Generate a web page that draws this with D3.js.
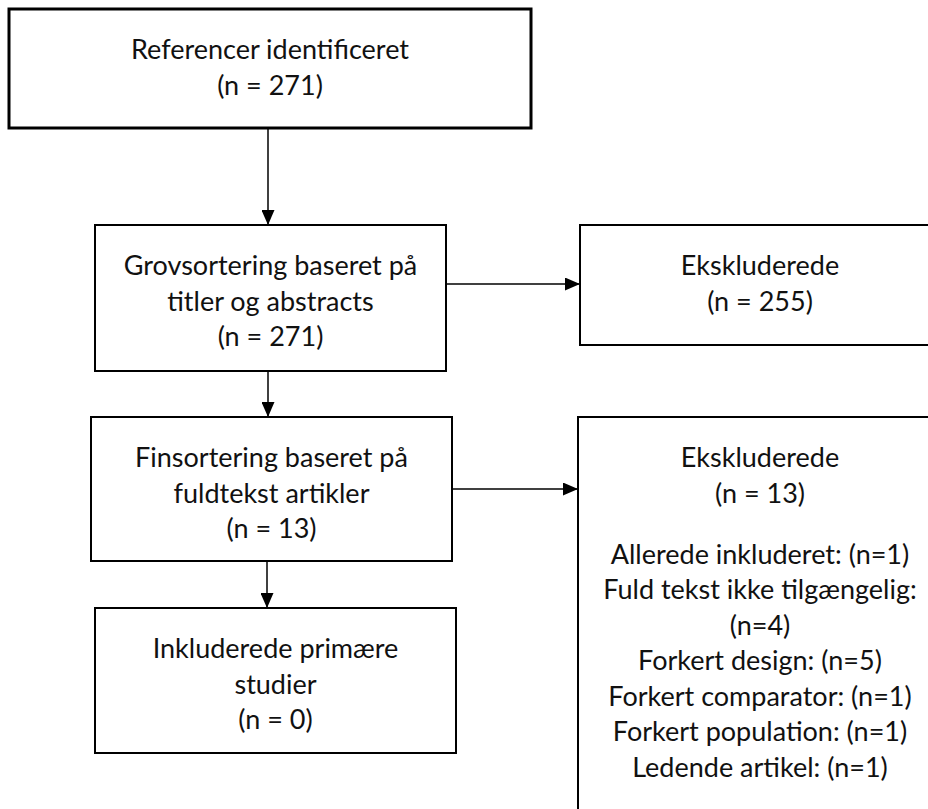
<!DOCTYPE html>
<html>
<head>
<meta charset="utf-8">
<script src="https://cdn.jsdelivr.net/npm/d3@7"></script>
<style>
  body { margin: 0; background: #fff; }
  svg { display: block; }
</style>
</head>
<body>
<script>
// flowchart of the literature search

// data
var stageLabels = [
  ["Referencer identificeret"],
  ["Grovsortering baseret på", "titler og abstracts"],
  ["Finsortering baseret på", "fuldtekst artikler"],
  ["Inkluderede primære", "studier"]
];
var stageCounts = [271, 271, 13, 0];

var excludedLabel = "Ekskluderede";
var excludedCounts = [255, 13];   // after stage 2 and stage 3

var reasonLabels = [
  "Allerede inkluderet:",
  "Fuld tekst ikke tilgængelig:",
  "Forkert design:",
  "Forkert comparator:",
  "Forkert population:",
  "Ledende artikel:"
];
var reasonCounts = [1, 4, 5, 1, 1, 1];

// layout
var width = 928, height = 809;
var font = "Lato, 'Open Sans', sans-serif";
var font_size = 27;
var line_h = 35.5;
var first_base = 50;

var left = [
  {x0: 9,  x1: 531, y0: 9,   y1: 128, sw: 3},
  {x0: 95, x1: 446, y0: 225, y1: 371, sw: 2},
  {x0: 91, x1: 452, y0: 417, y1: 561, sw: 2},
  {x0: 95, x1: 456, y0: 608, y1: 753, sw: 2}
];
var right = [
  {x0: 580, x1: 942, y0: 225, y1: 345, sw: 2},
  {x0: 578, x1: 942, y0: 417, y1: 840, sw: 2}
];
var trunk_x = [268, 268, 267];

var svg = d3.select("body").append("svg")
    .attr("width", width)
    .attr("height", height);

svg.append("defs").append("marker")
    .attr("id", "head")
    .attr("markerUnits", "userSpaceOnUse")
    .attr("viewBox", "0 0 15 13")
    .attr("markerWidth", 15)
    .attr("markerHeight", 13)
    .attr("refX", 15)
    .attr("refY", 6.5)
    .attr("orient", "auto")
  .append("path")
    .attr("d", "M0,0L15,6.5L0,13Z")
    .attr("fill", "#000");

function drawBox(b, lines, center_x) {
  svg.append("rect")
      .attr("x", b.x0)
      .attr("y", b.y0)
      .attr("width", b.x1 - b.x0)
      .attr("height", b.y1 - b.y0)
      .attr("fill", "#fff")
      .attr("stroke", "#000")
      .attr("stroke-width", b.sw);
  var cx = center_x == null ? (b.x0 + b.x1) / 2 : center_x;
  svg.append("g").selectAll("text")
    .data(lines)
    .enter().append("text")
      .attr("x", cx)
      .attr("y", function(d) { return b.y0 + first_base + d.dy; })
      .attr("text-anchor", "middle")
      .style("font-family", font)
      .style("font-size", font_size + "px")
      .attr("fill", "#111")
      .text(function(d) { return d.text; });
}

function stack(texts, start) {
  return texts.map(function(t, i) { return {text: t, dy: (start || 0) + i * line_h}; });
}

// left column
stageLabels.forEach(function(lab, i) {
  drawBox(left[i], stack(lab.concat(["(n = " + stageCounts[i] + ")"])));
});

// vertical connectors
for (var i = 0; i < left.length - 1; i++) {
  svg.append("line")
      .attr("x1", trunk_x[i]).attr("y1", left[i].y1)
      .attr("x2", trunk_x[i]).attr("y2", left[i + 1].y0)
      .attr("stroke", "#000")
      .attr("stroke-width", 1.5)
      .attr("marker-end", "url(#head)");
}

// measure helper for wrapping reasons
var probe = svg.append("text")
    .style("font-family", font)
    .style("font-size", font_size + "px")
    .attr("opacity", 0);
function textWidth(s) { probe.text(s); return probe.node().getComputedTextLength(); }

var reasonLines = [];
reasonLabels.forEach(function(lab, i) {
  var full = lab + " (n=" + reasonCounts[i] + ")";
  if (textWidth(full) > 345) {
    reasonLines.push(lab);
    reasonLines.push("(n=" + reasonCounts[i] + ")");
  } else {
    reasonLines.push(full);
  }
});
probe.remove();

var right_cx = 760;
// first exclusion box
drawBox(right[0], stack([excludedLabel, "(n = " + excludedCounts[0] + ")"]), right_cx);
// second exclusion box with reasons
var lines2 = stack([excludedLabel, "(n = " + excludedCounts[1] + ")"])
  .concat(stack(reasonLines, line_h + 61));
drawBox(right[1], lines2, right_cx);

// horizontal connectors
[1, 2].forEach(function(s, k) {
  var yy = k === 0 ? 284 : 489;
  svg.append("line")
      .attr("x1", left[s].x1).attr("y1", yy)
      .attr("x2", right[k].x0).attr("y2", yy)
      .attr("stroke", "#000")
      .attr("stroke-width", 1.5)
      .attr("marker-end", "url(#head)");
});
</script>
</body>
</html>
